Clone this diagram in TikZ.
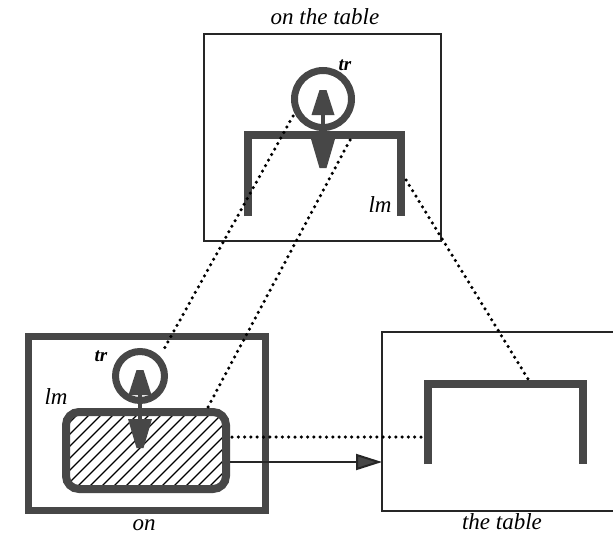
\documentclass[tikz,border=0pt]{standalone}
\usepackage{fontspec}
\setmainfont{Liberation Serif}
\usetikzlibrary{arrows.meta}
\definecolor{ink}{HTML}{474747}
\definecolor{frame}{HTML}{262626}
\tikzset{
  boxthin/.style={draw=frame, line width=2pt},
  boxthick/.style={draw=ink, line width=7pt},
  ring/.style={draw=ink, line width=7pt},
  tablepath/.style={draw=ink, line width=8.5pt, line join=miter},
  dotline/.style={draw=black, line width=3.5pt, line cap=round, dash pattern=on 0pt off 6.3pt},
  headfill/.style={fill=ink, draw=none},
  shaft/.style={draw=ink, line width=4pt},
  lbl/.style={font=\fontsize{23}{26}\selectfont\itshape, inner sep=0pt},
  smalllbl/.style={font=\fontsize{19}{22}\selectfont\itshape\bfseries, inner sep=0pt},
  conn/.style={draw=frame, line width=2pt, -{Triangle[length=26pt,width=16pt,fill=ink]}}
}
\newcommand{\dblarrow}[3]{% x, top, bottom
  \fill[headfill] (#1-3.5,#2) -- (#1+3.5,#2) -- (#1+11.5,#2+25) -- (#1-11.5,#2+25) -- cycle;
  \fill[headfill] (#1-12,#3-29) -- (#1+12,#3-29) -- (#1+3.5,#3) -- (#1-3.5,#3) -- cycle;
  \draw[shaft] (#1,#2+24) -- (#1,#3-28);
}
\begin{document}
\begin{tikzpicture}[x=1pt,y=-1pt]
\useasboundingbox (0,0) rectangle (613,536);
\fill[white] (0,0) rectangle (613,536);

% ---------- top box: on the table ----------
\draw[boxthin] (204,34) rectangle (441,241);
\node[lbl] (ttop) at (325,17) {on the table};
\draw[tablepath] (248,216) -- (248,135) -- (401,135) -- (401,216);
\draw[ring] (323,99) circle (28.5);
\dblarrow{323}{90}{168}
\node[smalllbl] (trtop) at (345,65) {tr};
\node[lbl] (lmtop) at (380,205) {lm};

% ---------- bottom left box: on ----------
\draw[boxthick] (28,336) rectangle (265,510);
\begin{scope}
  \clip[rounded corners=13pt] (66,412) rectangle (226,489);
  \foreach \k in {-20,...,30} {
    \draw[black, line width=1.2pt] (40+\k*12,500) -- (40+\k*12+100,400);
  }
\end{scope}
\draw[boxthick, line width=8pt, rounded corners=13pt] (66,412) rectangle (226,489);
\draw[ring] (140,376) circle (24.5);
\dblarrow{140}{370}{448}
\node[smalllbl] (trbl) at (101,356) {tr};
\node[lbl] (lmbl) at (56,397) {lm};
\node[lbl] (on) at (144,525) {on};

% ---------- bottom right box: the table ----------
\draw[boxthin] (382,332) rectangle (640,511);
\draw[tablepath] (428,464) -- (428,384) -- (583,384) -- (583,464);
\node[lbl] (ttab) at (502,522) {the table};

% ---------- connectors ----------
\coordinate (rectR1) at (230,462);
\coordinate (boxL) at (382,462);
\coordinate (rectR2) at (232,437);
\coordinate (legL) at (424,437);
\coordinate (legTopR) at (406,180);
\coordinate (barBR) at (528,379);
\coordinate (circTop) at (293,116);
\coordinate (circBL) at (164,349);
\coordinate (barTop) at (350,140);
\coordinate (rectTop) at (208,407);

\draw[conn] (rectR1) -- (boxL);
\draw[dotline] (rectR2) -- (legL);
\draw[dotline] (legTopR) -- (barBR);
\draw[dotline] (circTop) -- (circBL);
\draw[dotline] (barTop) -- (rectTop);
\end{tikzpicture}
\end{document}
